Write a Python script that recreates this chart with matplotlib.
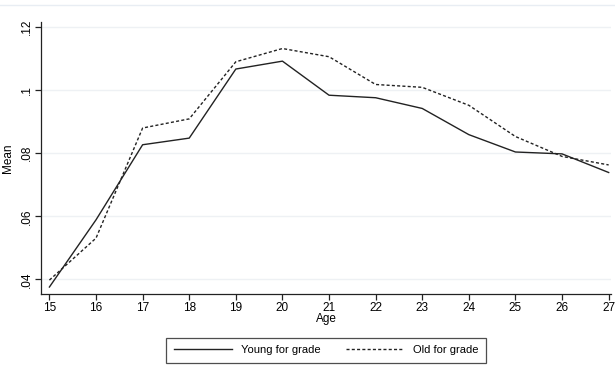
import matplotlib
matplotlib.use('Agg')
import matplotlib.pyplot as plt
from matplotlib.lines import Line2D

# Mean by age for the two groups.
ages = [15, 16, 17, 18, 19, 20, 21, 22, 23, 24, 25, 26, 27]
young = [0.0376, 0.0589, 0.0827, 0.0848, 0.1067, 0.1092, 0.0984,
         0.0976, 0.0942, 0.0859, 0.0804, 0.0798, 0.0739]
old = [0.0398, 0.0531, 0.0880, 0.0909, 0.1090, 0.1132, 0.1106,
       0.1018, 0.1009, 0.0952, 0.0853, 0.0790, 0.0763]
yticks = [0.04, 0.06, 0.08, 0.10, 0.12]
ytick_labels = ['.04', '.06', '.08', '.1', '.12']

plt.rcParams['font.family'] = ['Liberation Sans', 'DejaVu Sans']

fig = plt.figure(figsize=(6.15, 3.67), dpi=100)
ax = fig.add_axes([0.0667, 0.199, 0.9268, 0.741])

# faint rule along the top of the graph region
fig.add_artist(Line2D([0, 1], [1 - 5 / 367, 1 - 5 / 367], color='#e8edf3', lw=1))

for y in yticks:
    ax.axhline(y, color='#eef1f4', lw=1, zorder=0)

ax.plot(ages, young, color='#222222', lw=1.0, label='Young for grade')
ax.plot(ages, old, color='#222222', lw=1.0, linestyle=(0, (2.2, 1.6)),
        label='Old for grade')

ax.set_xlim(14.82, 27.05)
ax.set_ylim(0.0354, 0.1216)
ax.set_xticks(ages)
ax.set_yticks(yticks)
ax.set_yticklabels(ytick_labels, rotation=90, va='center')
ax.tick_params(axis='both', labelsize=8.5, length=4, width=0.9, color='#222222', pad=2)

for side in ['top', 'right']:
    ax.spines[side].set_visible(False)
for side in ['left', 'bottom']:
    ax.spines[side].set_color('#222222')
    ax.spines[side].set_linewidth(0.9)

ax.set_xlabel('Age', fontsize=8.5, labelpad=-1)
ax.set_ylabel('Mean', fontsize=8.5, labelpad=5)

leg = ax.legend(loc='upper center', bbox_to_anchor=(0.5, -0.14), ncol=2,
                fontsize=8, frameon=True, fancybox=False, handlelength=5.2,
                columnspacing=2.3, borderpad=0.7, handletextpad=0.8)
leg.get_frame().set_edgecolor('#222222')
leg.get_frame().set_linewidth(0.9)

fig.savefig('out.png', dpi=100)
